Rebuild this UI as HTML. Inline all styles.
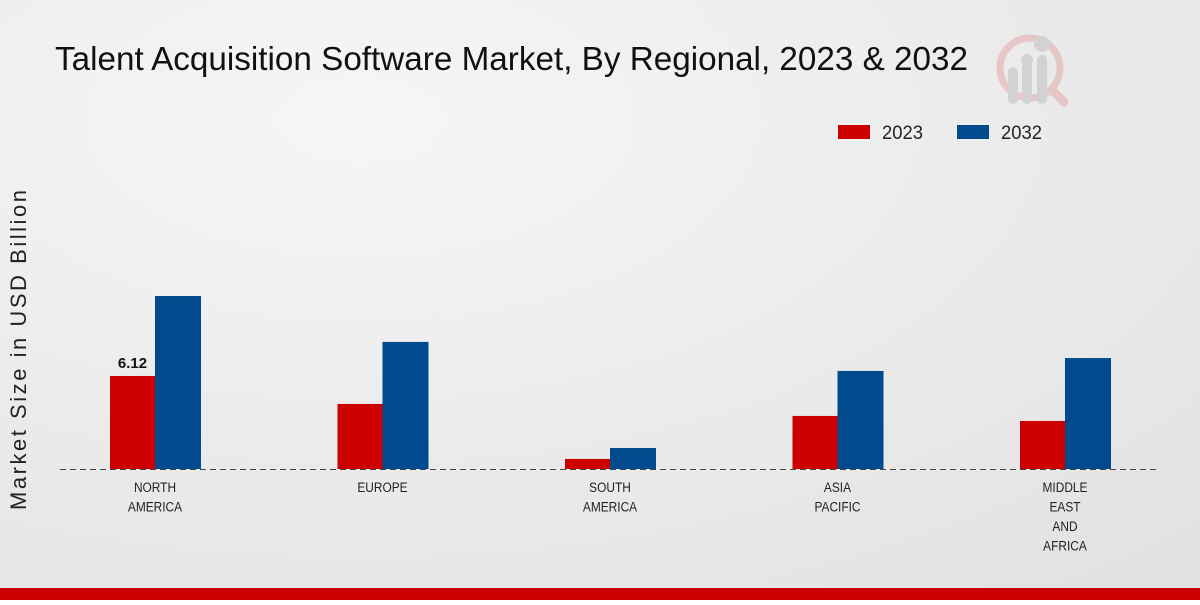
<!DOCTYPE html>
<html><head><meta charset="utf-8"><style>
body{margin:0;width:1200px;height:600px;overflow:hidden;font-family:"Liberation Sans",sans-serif}
</style></head><body>
<svg width="1200" height="600" xmlns="http://www.w3.org/2000/svg">
<defs><radialGradient id="bg" cx="0.3" cy="0.2" r="1"><stop offset="0" stop-color="#f6f6f6"/><stop offset="1" stop-color="#e2e2e2"/></radialGradient></defs>
<rect width="1200" height="600" fill="url(#bg)"/>
<text x="55" y="70" font-size="33" fill="#111" textLength="913" lengthAdjust="spacingAndGlyphs">Talent Acquisition Software Market, By Regional, 2023 &amp; 2032</text>
<g opacity="0.5">
<circle cx="1030" cy="68" r="30" fill="none" stroke="#e2a3a3" stroke-width="7"/>
<line x1="1052" y1="90" x2="1064" y2="102" stroke="#e2a3a3" stroke-width="9" stroke-linecap="round"/>
<rect x="1008" y="72" width="10" height="32" rx="5" fill="#bbb"/><rect x="1022" y="62" width="10" height="42" rx="5" fill="#bbb"/><rect x="1037" y="55" width="10" height="49" rx="5" fill="#bbb"/>
<circle cx="1013" cy="72" r="5" fill="#bbb"/><circle cx="1027" cy="60" r="6" fill="#bbb"/><circle cx="1042" cy="44" r="8" fill="#bbb"/>
</g>
<g>
<rect x="838" y="125" width="32" height="14" fill="#cc0000"/>
<text x="882" y="139" font-size="19" fill="#222" textLength="41" lengthAdjust="spacingAndGlyphs">2023</text>
<rect x="957" y="125" width="32" height="14" fill="#004a8d"/>
<text x="1001" y="139" font-size="19" fill="#222" textLength="41" lengthAdjust="spacingAndGlyphs">2032</text>
</g>
<text transform="translate(26,350) rotate(-90)" x="-160" font-size="22" fill="#222" textLength="320" lengthAdjust="spacing">Market Size in USD Billion</text>
<g id="plot"></g>
<rect x="0" y="588" width="1200" height="12" fill="#cc0000"/>
</svg>
<script>
const categories=[["NORTH","AMERICA"],["EUROPE"],["SOUTH","AMERICA"],["ASIA","PACIFIC"],["MIDDLE","EAST","AND","AFRICA"]];
const values2023=[6.12,4.28,0.66,3.49,3.16];
const values2032=[11.38,8.36,1.38,6.45,7.3];
const labels2023=["6.12","","","",""];
const NS="http://www.w3.org/2000/svg";
const g=document.getElementById('plot');
const base=469,scale=15.2,x0=155,step=227.5,bw=45;
const xc=i=>x0+i*step, yh=v=>v*scale;
function mk(t,a){const e=document.createElementNS(NS,t);for(const k in a)e.setAttribute(k,a[k]);g.appendChild(e);return e;}
const ax=mk('line',{x1:60,x2:1160,y1:base+0.5,y2:base+0.5,stroke:'#444','stroke-dasharray':'6,4'});


categories.forEach((c,i)=>{
 const r=mk('rect',{x:xc(i)-bw,y:base-yh(values2023[i]),width:bw,height:yh(values2023[i]),fill:'#cc0000'});
 
 
 const b=mk('rect',{x:xc(i),y:base-yh(values2032[i]),width:bw+1,height:yh(values2032[i]),fill:'#004a8d'});
 
 
 if(labels2023[i]){const t=mk('text',{x:xc(i)-bw/2,y:base-yh(values2023[i])-8,'text-anchor':'middle','font-size':15,'font-weight':'bold',fill:'#111'});t.textContent=labels2023[i];
 
 }
 c.forEach((l,j)=>{const t=mk('text',{x:xc(i),y:492+j*19.5,'text-anchor':'middle','font-size':14,fill:'#222',transform:'translate('+xc(i)+',0) scale(0.85,1) translate('+(-xc(i))+',0)'});t.textContent=l;
 
 });
});
</script>
</body></html>
